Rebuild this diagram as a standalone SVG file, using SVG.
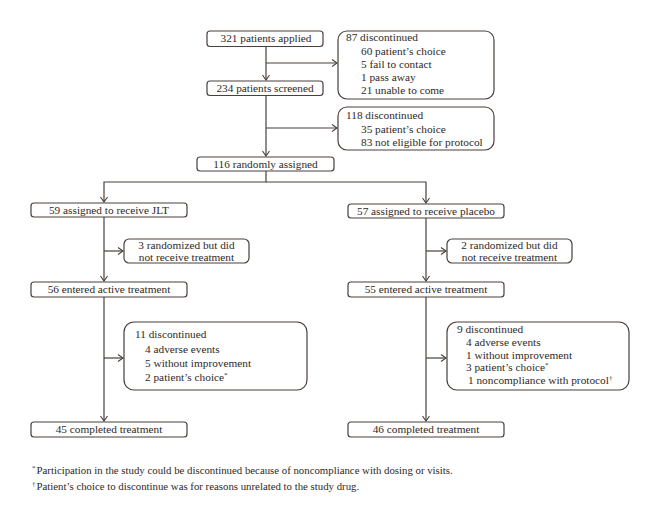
<svg xmlns="http://www.w3.org/2000/svg" width="660" height="528" viewBox="0 0 660 528">
<defs>
<style>
text{font-family:"Liberation Serif","Times New Roman",serif;font-size:11.3px;fill:#2f2825}
.c{text-anchor:middle}
.b{fill:#fff;stroke:#4a403b;stroke-width:1.2}
.l{fill:none;stroke:#4a403b;stroke-width:1.2}
.fn{font-size:10.8px}
.sup{font-size:7px}
</style>
<marker id="a" markerWidth="10" markerHeight="10" refX="7" refY="5" orient="auto" markerUnits="userSpaceOnUse">
<path d="M2,1.5 L7,5 L2,8.5" fill="none" stroke="#4a403b" stroke-width="1.1"/>
</marker>
</defs>
<rect width="660" height="528" fill="#fff"/>
<g id="connectors">
<path class="l" d="M266,46 V80" marker-end="url(#a)"/>
<path class="l" d="M266,63 H337" marker-end="url(#a)"/>
<path class="l" d="M266,95 V156" marker-end="url(#a)"/>
<path class="l" d="M266,128 H337" marker-end="url(#a)"/>
<path class="l" d="M266,171 V182 H104 V202" marker-end="url(#a)"/>
<path class="l" d="M266,182 H426 V203" marker-end="url(#a)"/>
<path class="l" d="M104,217 V281" marker-end="url(#a)"/>
<path class="l" d="M104,251 H123" marker-end="url(#a)"/>
<path class="l" d="M426,218 V281" marker-end="url(#a)"/>
<path class="l" d="M426,251 H446" marker-end="url(#a)"/>
<path class="l" d="M104,297 V421" marker-end="url(#a)"/>
<path class="l" d="M104,358 H123" marker-end="url(#a)"/>
<path class="l" d="M426,297 V421" marker-end="url(#a)"/>
<path class="l" d="M426,358 H446" marker-end="url(#a)"/>
</g>
<g id="applied"><rect class="b" x="207" y="31" width="116" height="15.5" rx="3"/><text class="c" x="266" y="42.3">321 patients applied</text></g>
<g id="disc87"><rect class="b" x="338" y="31" width="156" height="68" rx="9"/>
<text x="346" y="41">87 discontinued</text>
<text x="361" y="54.5">60 patient’s choice</text>
<text x="361" y="67.8">5 fail to contact</text>
<text x="361" y="81">1 pass away</text>
<text x="361" y="94.3">21 unable to come</text></g>
<g id="screened"><rect class="b" x="207" y="81" width="116" height="14.5" rx="3"/><text class="c" x="265" y="91.8">234 patients screened</text></g>
<g id="disc118"><rect class="b" x="338" y="107" width="156" height="43" rx="9"/>
<text x="346" y="119">118 discontinued</text>
<text x="361" y="132.5">35 patient’s choice</text>
<text x="361" y="146">83 not eligible for protocol</text></g>
<g id="random"><rect class="b" x="197" y="157" width="137" height="14" rx="3"/><text class="c" x="265.5" y="167.7">116 randomly assigned</text></g>
<g id="jlt"><rect class="b" x="31" y="203" width="156" height="14" rx="3"/><text class="c" x="109" y="213.7">59 assigned to receive JLT</text></g>
<g id="placebo"><rect class="b" x="348" y="204" width="156" height="14" rx="3"/><text class="c" x="426" y="214.7">57 assigned to receive placebo</text></g>
<g id="norx3"><rect class="b" x="124" y="239" width="125" height="24" rx="5"/>
<text class="c" x="186.5" y="249.3">3 randomized but did</text>
<text class="c" x="186.5" y="260.8">not receive treatment</text></g>
<g id="norx2"><rect class="b" x="447" y="239" width="125" height="24" rx="5"/>
<text class="c" x="509.5" y="249.3">2 randomized but did</text>
<text class="c" x="509.5" y="260.8">not receive treatment</text></g>
<g id="active56"><rect class="b" x="31" y="282" width="156" height="15" rx="3"/><text class="c" x="109" y="293.2">56 entered active treatment</text></g>
<g id="active55"><rect class="b" x="348" y="282" width="156" height="15" rx="3"/><text class="c" x="426" y="293.2">55 entered active treatment</text></g>
<g id="disc11"><rect class="b" x="124" y="322" width="183" height="68" rx="10"/>
<text x="135" y="338">11 discontinued</text>
<text x="145" y="352.5">4 adverse events</text>
<text x="145" y="366.5">5 without improvement</text>
<text x="145" y="380.5">2 patient’s choice<tspan class="sup" dy="-4">*</tspan></text></g>
<g id="disc9"><rect class="b" x="447" y="322" width="182" height="68" rx="10"/>
<text x="457" y="333">9 discontinued</text>
<text x="466" y="346">4 adverse events</text>
<text x="466" y="358.7">1 without improvement</text>
<text x="466" y="371.4">3 patient’s choice<tspan class="sup" dy="-4">*</tspan></text>
<text x="468" y="384">1 noncompliance with protocol<tspan class="sup" dy="-4">†</tspan></text></g>
<g id="done45"><rect class="b" x="31" y="422" width="156" height="15" rx="3"/><text class="c" x="109" y="433.2">45 completed treatment</text></g>
<g id="done46"><rect class="b" x="348" y="422" width="156" height="15" rx="3"/><text class="c" x="426" y="433.2">46 completed treatment</text></g>
<g id="footnotes">
<text class="fn" x="32" y="474"><tspan class="sup" dy="-4">*</tspan><tspan dy="4" dx="1">Participation in the study could be discontinued because of noncompliance with dosing or visits.</tspan></text>
<text class="fn" x="32" y="490"><tspan class="sup" dy="-4">†</tspan><tspan dy="4" dx="1">Patient’s choice to discontinue was for reasons unrelated to the study drug.</tspan></text>
</g>
</svg>
